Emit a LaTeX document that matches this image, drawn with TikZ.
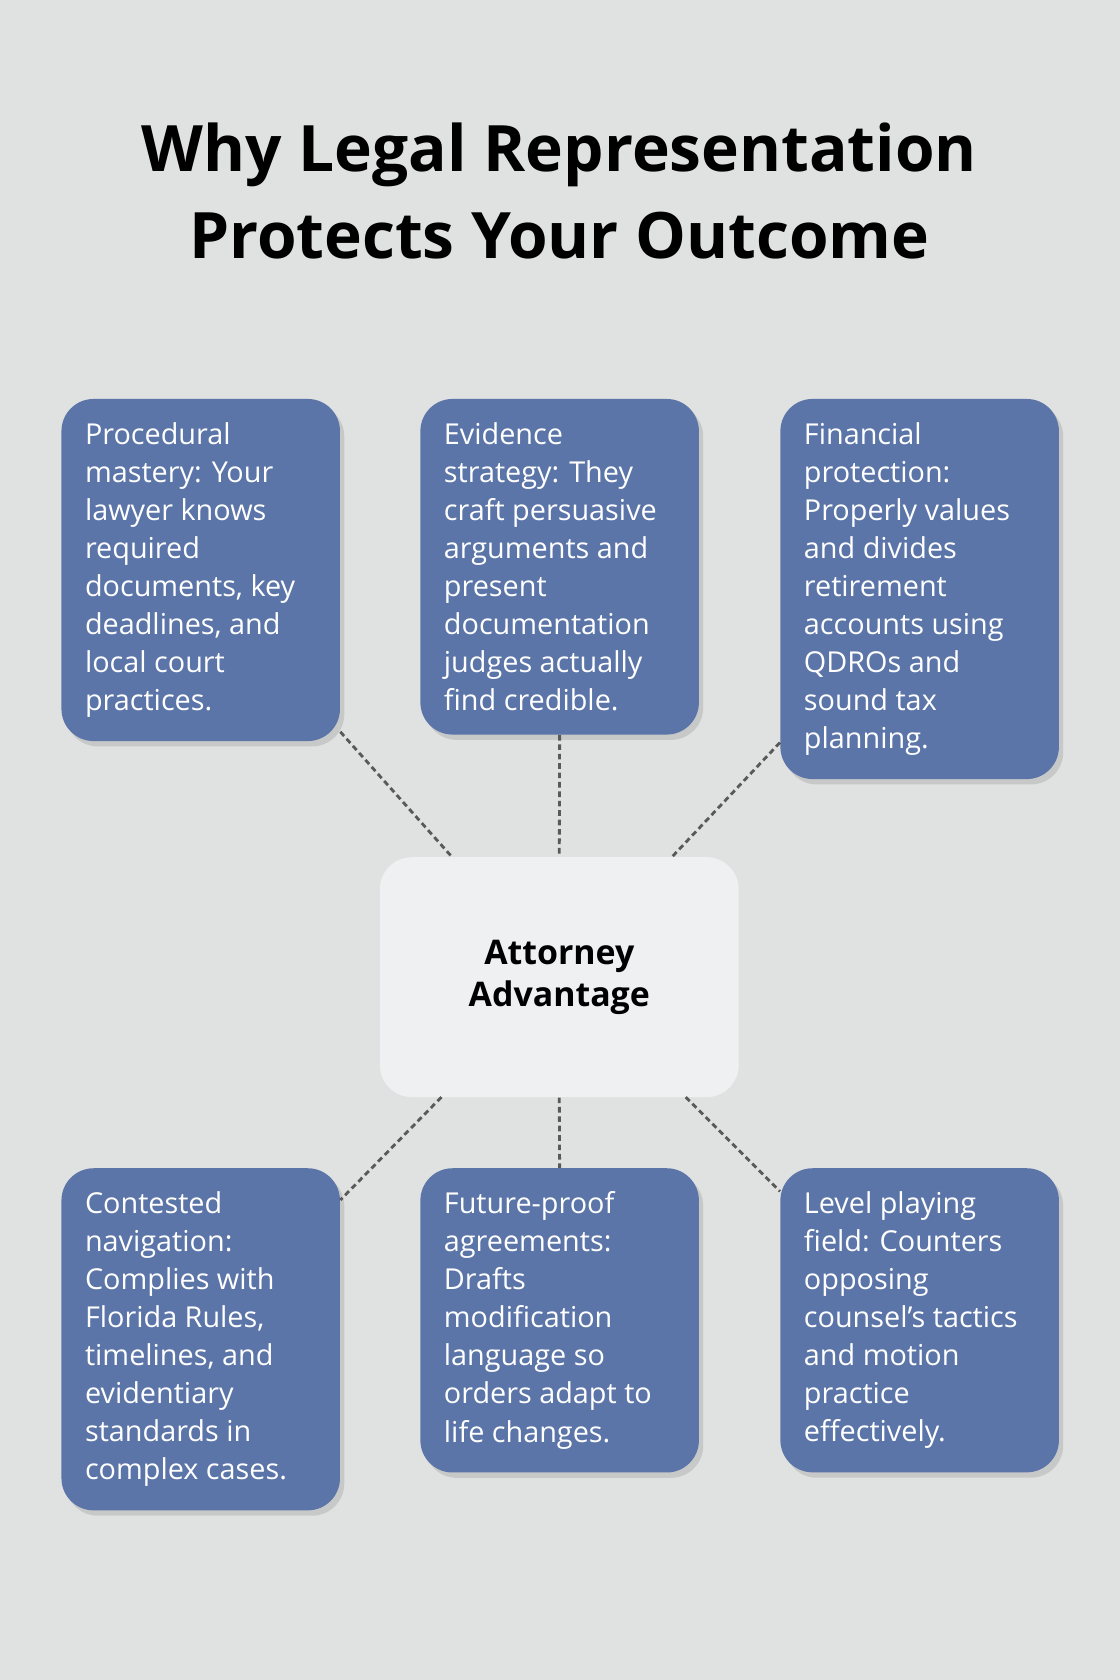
\documentclass[tikz,border=0pt]{standalone}
\usepackage{fontspec}
\setmainfont{Open Sans}
\usetikzlibrary{shadows}
\definecolor{bgc}{HTML}{E0E1E1}
\definecolor{boxc}{HTML}{5B75A8}
\definecolor{hubc}{HTML}{EFF0F2}
\begin{document}
\begin{tikzpicture}[x=0.02cm,y=-0.02cm,
  card/.style={anchor=north west, fill=boxc, text=white, rounded corners=0.6cm,
    text width=4.32cm, inner sep=0.44cm, align=flush left, font=\fontsize{15.3}{20.2}\selectfont,
    drop shadow={shadow xshift=0.08cm, shadow yshift=-0.1cm, opacity=0.25}},
  link/.style={densely dashed, line width=1.5pt, draw=black!65}]
  \fill [bgc] (0,0) rectangle (1045,1568); % background
  \useasboundingbox (0,0) rectangle (1045,1568);

  \node [font=\fontsize{34}{46}\selectfont\bfseries, align=center] (title) at (522,178)
    {Why Legal Representation\\Protects Your Outcome};

  \node [card] (proc) at (57,372) {Procedural mastery: Your lawyer knows required documents, key deadlines, and local court practices.};
  \node [card] (evid) at (392,372) {Evidence strategy: They craft persuasive arguments and present documentation judges actually find credible.};
  \node [card] (fin) at (728,372) {Financial protection: Properly values and divides retirement accounts using QDROs and sound tax planning.};

  \node [card] (cont) at (57,1090) {Contested navigation: Complies with Florida Rules, timelines, and evidentiary standards in complex cases.};
  \node [card] (fut) at (392,1090) {Future-proof agreements: Drafts modification language so orders adapt to life changes.};
  \node [card] (lvl) at (728,1090) {Level playing field: Counters opposing counsel’s tactics and motion practice effectively.};

  \node [fill=hubc, rounded corners=0.6cm, minimum width=6.7cm, minimum height=4.48cm,
    align=center, font=\fontsize{18}{22.5}\selectfont\bfseries] (hub) at (522,912) {Attorney\\Advantage};

  % connectors
  \draw [link] (proc.east |- 0,683) -- (422,800);
  \draw [link] (evid.south) -- (hub.north);
  \draw [link] (fin.west |- 0,693) -- (627,800);
  \draw [link] (412,1024) -- (cont.east |- 0,1120);
  \draw [link] (hub.south) -- (fut.north);
  \draw [link] (640,1024) -- (lvl.west |- 0,1112);
\end{tikzpicture}
\end{document}
